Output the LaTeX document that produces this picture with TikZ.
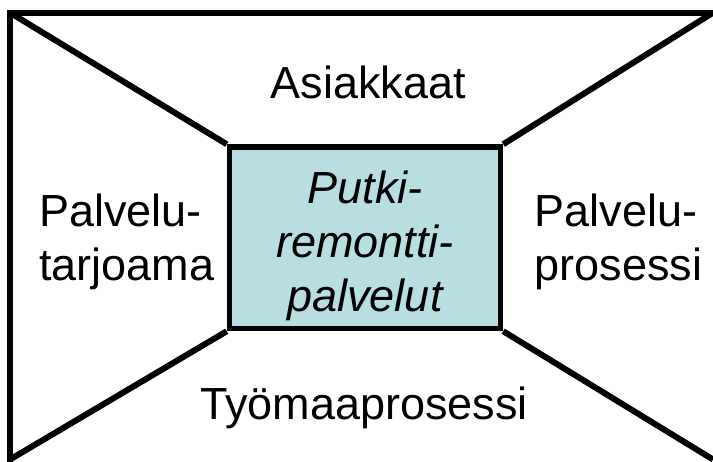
\documentclass[tikz,border=0pt]{standalone}
\usepackage{fontspec}
\setmainfont{Liberation Sans}
\definecolor{corefill}{RGB}{185,222,225}
\begin{document}
\begin{tikzpicture}[x=1pt,y=-1pt,
  frame/.style={line width=6pt, line join=miter},
  spoke/.style={line width=6pt},
  corebox/.style={draw, line width=5.5pt, fill=corefill, inner sep=0pt,
    minimum width=271pt, minimum height=181.5pt},
  word/.style={font=\fontsize{45}{54}\selectfont, inner sep=0pt},
]
\useasboundingbox (0,0) rectangle (713,462);
\clip (0,0) rectangle (713,462);

% outer frame corners (right and bottom sides lie beyond the edge)
\coordinate (otl) at (10,12.7);
\coordinate (otr) at (713,12.7);
\coordinate (obl) at (10,459.5);
\coordinate (obr) at (713,459.5);
\draw[frame] (10,475) -- (otl) -- (725,12.7);

% central box
\node[corebox] (core) at (365,237.75) {};

% spokes from the frame corners to the box corners
\draw[spoke] (otl) -- (core.north west);
\draw[spoke] (otr) -- (core.north east);
\draw[spoke] (obl) -- (core.south west);
\draw[spoke] (obr) -- (core.south east);

% labels (a multi-line node's base is its last line)
\node[word, font=\fontsize{45}{54}\selectfont\itshape, align=center, anchor=base]
  (coretext) at (365,312) {Putki-\\remontti-\\palvelut};
\node[word, anchor=base] (top) at (368.5,98.5) {Asiakkaat};
\node[word, anchor=base] (bottom) at (364,420) {Työmaaprosessi};
\node[word, align=left, anchor=base west] (left) at (39,281) {Palvelu-\\tarjoama};
\node[word, align=left, anchor=base west] (right) at (534.5,281) {Palvelu-\\prosessi};
\end{tikzpicture}
\end{document}
